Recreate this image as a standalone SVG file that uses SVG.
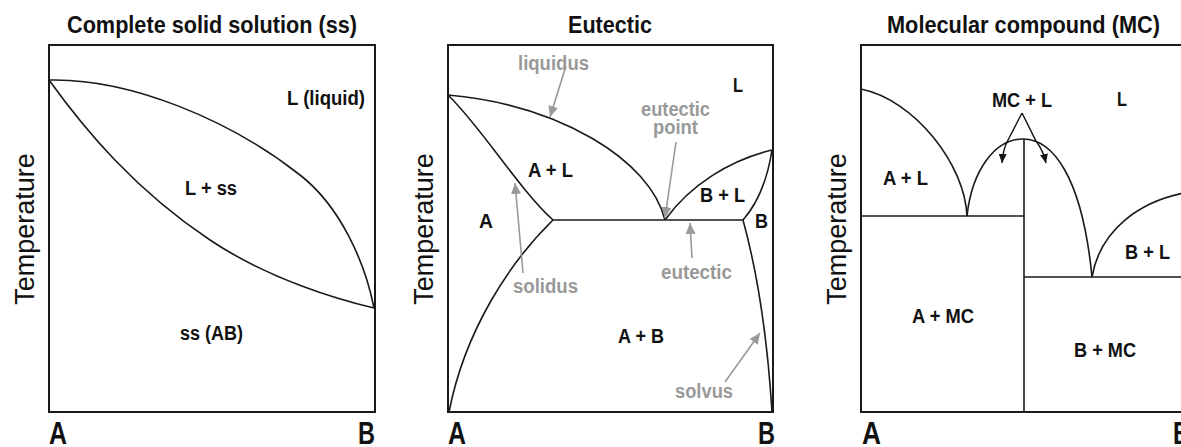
<svg xmlns="http://www.w3.org/2000/svg" width="1181" height="447" viewBox="0 0 1181 447">
<style>
.frame{fill:none;stroke:#1a1a1a;stroke-width:2}
.crv{fill:none;stroke:#1a1a1a;stroke-width:1.6}
.t{font-family:"Liberation Sans",Arial,sans-serif;font-weight:bold;fill:#111}
.title{font-size:23px}
.lbl{font-size:19.5px}
.ax{font-size:31px}
.temp{font-family:"Liberation Sans",Arial,sans-serif;font-size:27px;fill:#111;text-anchor:middle}
.g{font-family:"Liberation Sans",Arial,sans-serif;font-weight:bold;font-size:20px;fill:#999}
.garr{fill:none;stroke:#999;stroke-width:1.6;marker-end:url(#gh)}
.barr{fill:none;stroke:#111;stroke-width:1.4;marker-end:url(#bh)}
</style>
<defs>
<marker id="gh" markerUnits="userSpaceOnUse" markerWidth="12" markerHeight="10" refX="11" refY="5" orient="auto"><path d="M0,0 L11,5 L0,10 Z" fill="#999"/></marker>
<marker id="bh" markerUnits="userSpaceOnUse" markerWidth="10" markerHeight="8" refX="9" refY="4" orient="auto"><path d="M0,0 L9,4 L0,8 Z" fill="#111"/></marker>
</defs>
<rect width="1181" height="447" fill="#fff"/>

<g id="panel-ss">
<text class="t title" x="67" y="33" textLength="290" lengthAdjust="spacingAndGlyphs">Complete solid solution (ss)</text>
<rect class="frame" x="49" y="45" width="326" height="367"/>
<path class="crv" d="M49,80 C130,78 230,120 300,175 C340,206 365,262 374,308"/>
<path class="crv" d="M49,80 C85,130 135,190 210,240 C270,280 340,300 374,308"/>
<text class="t lbl" x="287" y="105" textLength="78" lengthAdjust="spacingAndGlyphs">L (liquid)</text>
<text class="t lbl" x="185" y="195" textLength="52" lengthAdjust="spacingAndGlyphs">L + ss</text>
<text class="t lbl" x="180" y="340" textLength="63" lengthAdjust="spacingAndGlyphs">ss (AB)</text>
<text class="temp" transform="translate(34,229) rotate(-90)">Temperature</text>
<text class="t ax" x="49" y="444" textLength="18" lengthAdjust="spacingAndGlyphs">A</text>
<text class="t ax" x="358" y="444" textLength="17" lengthAdjust="spacingAndGlyphs">B</text>
</g>

<g id="panel-eutectic">
<text class="t title" x="568" y="33" textLength="84" lengthAdjust="spacingAndGlyphs">Eutectic</text>
<rect class="frame" x="448" y="45" width="325" height="367"/>
<path class="crv" d="M448,95 C560,105 650,160 665,220"/>
<path class="crv" d="M448,95 C482,128 518,188 553,220"/>
<path class="crv" d="M553,220 C510,262 465,330 449,412"/>
<path class="crv" d="M553,220 H743"/>
<path class="crv" d="M665,220 C690,185 730,160 772,150"/>
<path class="crv" d="M772,150 Q765,195 743,220"/>
<path class="crv" d="M743,220 Q765,300 772,412"/>
<text class="t lbl" x="733" y="92" textLength="10" lengthAdjust="spacingAndGlyphs">L</text>
<text class="t lbl" x="528" y="177" textLength="45" lengthAdjust="spacingAndGlyphs">A + L</text>
<text class="t lbl" x="700" y="202" textLength="45" lengthAdjust="spacingAndGlyphs">B + L</text>
<text class="t lbl" x="479" y="228" textLength="14" lengthAdjust="spacingAndGlyphs">A</text>
<text class="t lbl" x="755" y="228" textLength="13" lengthAdjust="spacingAndGlyphs">B</text>
<text class="t lbl" x="618" y="343" textLength="46" lengthAdjust="spacingAndGlyphs">A + B</text>
<text class="g" x="518" y="70" textLength="71" lengthAdjust="spacingAndGlyphs">liquidus</text>
<text class="g" x="641" y="116" textLength="69" lengthAdjust="spacingAndGlyphs">eutectic</text>
<text class="g" x="653" y="134" textLength="45" lengthAdjust="spacingAndGlyphs">point</text>
<text class="g" x="661" y="279" textLength="71" lengthAdjust="spacingAndGlyphs">eutectic</text>
<text class="g" x="513" y="293" textLength="65" lengthAdjust="spacingAndGlyphs">solidus</text>
<text class="g" x="675" y="398" textLength="58" lengthAdjust="spacingAndGlyphs">solvus</text>
<text class="temp" transform="translate(433,229) rotate(-90)">Temperature</text>
<text class="t ax" x="448" y="444" textLength="18" lengthAdjust="spacingAndGlyphs">A</text>
<text class="t ax" x="758" y="444" textLength="17" lengthAdjust="spacingAndGlyphs">B</text>
</g>

<g id="panel-mc">
<text class="t title" x="887" y="33" textLength="273" lengthAdjust="spacingAndGlyphs">Molecular compound (MC)</text>
<rect class="frame" x="861" y="45" width="340" height="367"/>
<path class="crv" d="M861,89 C915,100 965,165 967,216"/>
<path class="crv" d="M861,216 H1024"/>
<path class="crv" d="M1024,139 V412"/>
<path class="crv" d="M967,216 C972,170 995,139 1023,139 C1052,139 1082,175 1092,277"/>
<path class="crv" d="M1024,277 H1181"/>
<path class="crv" d="M1092,277 C1100,230 1140,200 1190,192"/>
<text class="t lbl" x="992" y="107" textLength="60" lengthAdjust="spacingAndGlyphs">MC + L</text>
<text class="t lbl" x="1117" y="106" textLength="10" lengthAdjust="spacingAndGlyphs">L</text>
<text class="t lbl" x="883" y="185" textLength="45" lengthAdjust="spacingAndGlyphs">A + L</text>
<text class="t lbl" x="1125" y="259" textLength="45" lengthAdjust="spacingAndGlyphs">B + L</text>
<text class="t lbl" x="912" y="323" textLength="62" lengthAdjust="spacingAndGlyphs">A + MC</text>
<text class="t lbl" x="1074" y="357" textLength="62" lengthAdjust="spacingAndGlyphs">B + MC</text>
<text class="temp" transform="translate(846,229) rotate(-90)">Temperature</text>
<text class="t ax" x="862" y="444" textLength="19" lengthAdjust="spacingAndGlyphs">A</text>
<text class="t ax" x="1173" y="444" textLength="17" lengthAdjust="spacingAndGlyphs">B</text>
</g>

<g id="connectors">
<path class="garr" d="M566,66 L550,117"/>
<path class="garr" d="M676,142 L665,218"/>
<path class="garr" d="M523,273 L515,183"/>
<path class="garr" d="M692,258 L690,223"/>
<path class="garr" d="M725,382 L760,333"/>
<path class="barr" d="M1022,113 L1007,142 Q1003,150 1002,163"/>
<path class="barr" d="M1022,113 L1036,141 Q1043,150 1046,163"/>
</g>
</svg>
